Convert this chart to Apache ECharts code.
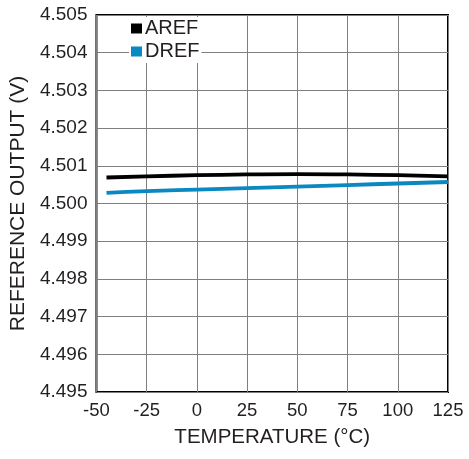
<!DOCTYPE html>
<html>
<head>
<meta charset="utf-8">
<title>chart</title>
<style>
  html, body { margin: 0; padding: 0; width: 100%; height: 100%; background: #fff; }
  #main { width: 469px; height: 459px; }
</style>
</head>
<body>
<div id="main"></div>
<script src="https://cdn.jsdelivr.net/npm/echarts@6/dist/echarts.min.js"></script>
<script>
var temps = [-45, -25, 0, 25, 50, 75, 100, 125];
var aref = [4.50069, 4.50072, 4.50075, 4.50077, 4.50078, 4.50077, 4.50075, 4.50072];
var dref = [4.50028, 4.50033, 4.50037, 4.50041, 4.50045, 4.50049, 4.50053, 4.50057];

function pairs(xs, ys) {
  var out = [];
  for (var i = 0; i < xs.length; i++) out.push([xs[i], ys[i]]);
  return out;
}

var font = 'Liberation Sans, Arial, sans-serif';
var ink = '#231f20';
var myChart = echarts.init(document.getElementById('main'));
var option = {
  animation: false,
  backgroundColor: '#fff',
  grid: {
    left: 92, right: 21, top: 15, bottom: 67,
    show: true, borderColor: '#000', borderWidth: 2, backgroundColor: 'transparent'
  },
  legend: {
    left: 129, top: 17, orient: 'vertical', itemGap: 0,
    icon: 'rect', itemWidth: 11, itemHeight: 10,
    backgroundColor: '#fff', padding: [0, 2, 0, 2],
    textStyle: { fontFamily: font, fontSize: 20, color: ink, lineHeight: 19, padding: [0, 0, 4, -2] },
    data: ['AREF', 'DREF']
  },
  xAxis: {
    type: 'value', min: -50, max: 125, interval: 25,
    name: 'TEMPERATURE (°C)', nameLocation: 'middle', nameGap: 35,
    nameTextStyle: { fontFamily: font, fontSize: 20.5, color: ink },
    axisLine: { show: false }, axisTick: { show: false },
    axisLabel: { fontFamily: font, fontSize: 18.5, color: ink, margin: 9 },
    splitLine: { lineStyle: { color: '#7f7f7f', width: 1 } }
  },
  yAxis: {
    type: 'value', min: 4.495, max: 4.505, interval: 0.001,
    name: 'REFERENCE OUTPUT (V)', nameLocation: 'middle', nameGap: 65,
    nameTextStyle: { fontFamily: font, fontSize: 21, color: ink },
    axisLine: { show: false }, axisTick: { show: false },
    axisLabel: { fontFamily: font, fontSize: 19, color: ink, margin: 9,
      formatter: function (v) { return v.toFixed(3); } },
    splitLine: { lineStyle: { color: '#7f7f7f', width: 1 } }
  },
  series: [
    { name: 'AREF', type: 'line', smooth: true, showSymbol: false,
      itemStyle: { color: '#000' }, lineStyle: { color: '#000', width: 3.8 },
      data: pairs(temps, aref) },
    { name: 'DREF', type: 'line', smooth: true, showSymbol: false,
      itemStyle: { color: '#0a88c2' }, lineStyle: { color: '#0a88c2', width: 3.8 },
      data: pairs(temps, dref) }
  ]
};
myChart.setOption(option);
</script>
</body>
</html>
